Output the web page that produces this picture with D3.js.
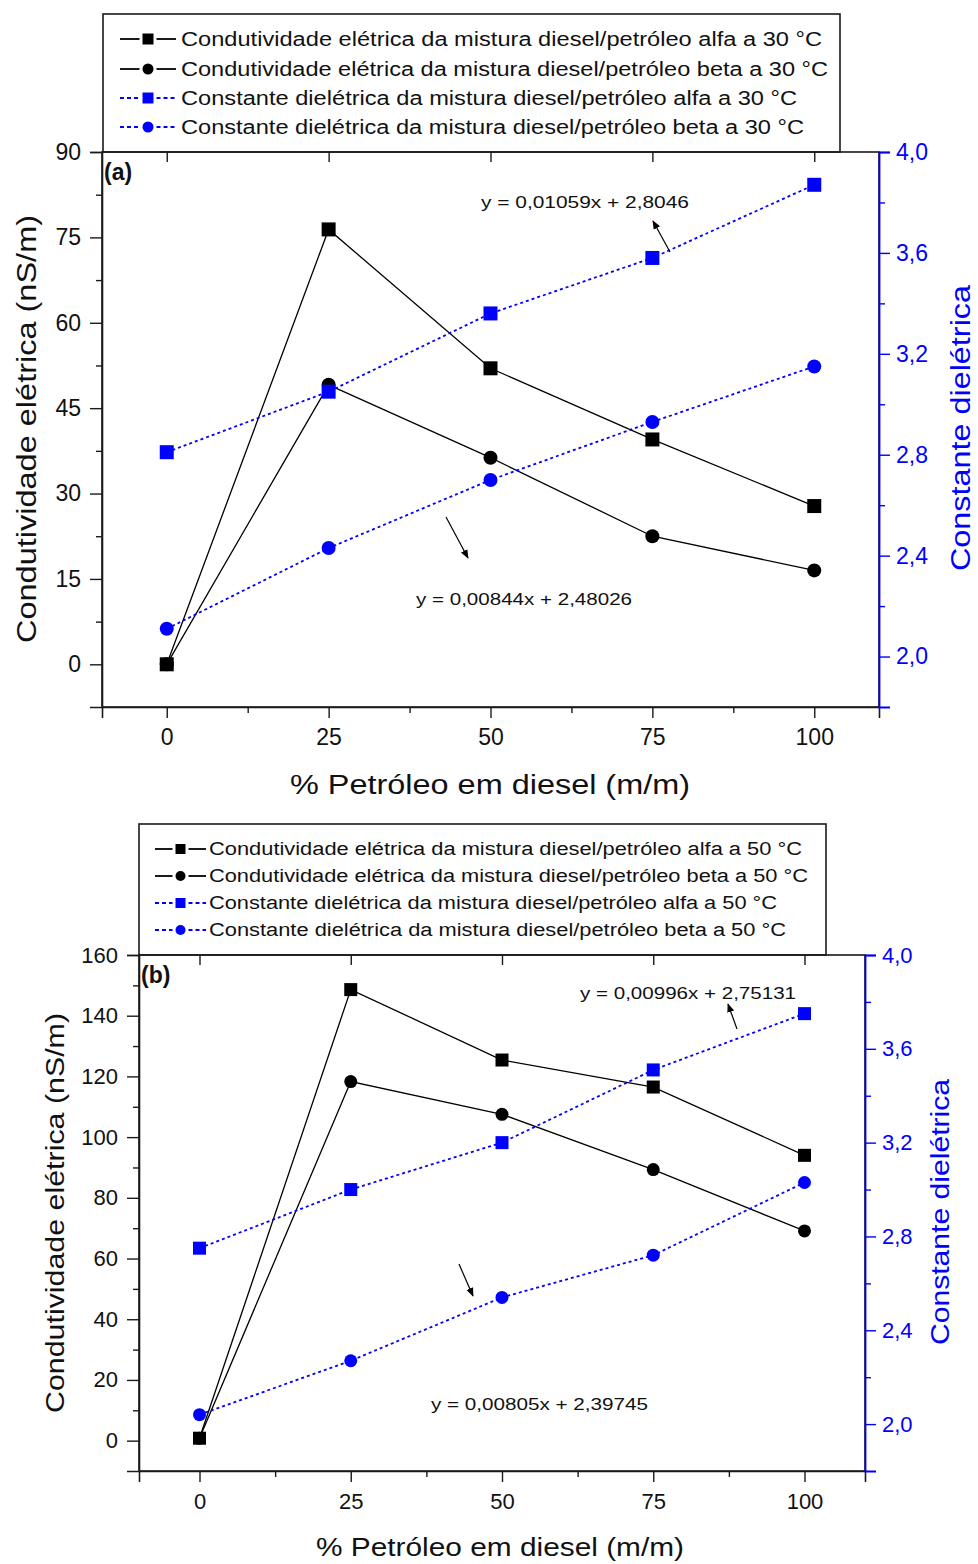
<!DOCTYPE html>
<html>
<head>
<meta charset="utf-8">
<script src="https://cdn.jsdelivr.net/npm/d3@7"></script>
<style>
  html, body { margin: 0; padding: 0; background: #fff; }
  svg { display: block; font-family: "Liberation Sans", Arial, sans-serif; }
</style>
</head>
<body>
<svg id="chart" width="978" height="1564"></svg>
<script>
// Petroleum fraction in diesel (% m/m)
const petroleumPct = [0, 25, 50, 75, 100];

// 30 °C: electrical conductivity (nS/m) and dielectric constant
const condAlfa30 = [0, 76.4, 52.0, 39.5, 27.8];
const condBeta30 = [0, 49.1, 36.3, 22.5, 16.5];
const dielAlfa30 = [2.81, 3.05, 3.36, 3.58, 3.87];
const dielBeta30 = [2.11, 2.43, 2.70, 2.93, 3.15];

// 50 °C: electrical conductivity (nS/m) and dielectric constant
const condAlfa50 = [0.8, 148.6, 125.4, 116.5, 94.0];
const condBeta50 = [0.8, 118.3, 107.5, 89.3, 69.1];
const dielAlfa50 = [2.75, 3.00, 3.20, 3.51, 3.75];
const dielBeta50 = [2.04, 2.27, 2.54, 2.72, 3.03];

// Tick values
const xTicks = [0, 25, 50, 75, 100];
const xMinor = [12.5, 37.5, 62.5, 87.5];
const condTicks30 = [0, 15, 30, 45, 60, 75, 90];
const condMinor30 = [7.5, 22.5, 37.5, 52.5, 67.5, 82.5];
const condTicks50 = [0, 20, 40, 60, 80, 100, 120, 140, 160];
const condMinor50 = [10, 30, 50, 70, 90, 110, 130, 150];
const dielTicks = [2.0, 2.4, 2.8, 3.2, 3.6, 4.0];
const dielMinor = [2.2, 2.6, 3.0, 3.4, 3.8];

// Legend and annotation texts
const legend30 = [
  "Condutividade elétrica da mistura diesel/petróleo alfa a 30 °C",
  "Condutividade elétrica da mistura diesel/petróleo beta a 30 °C",
  "Constante dielétrica da mistura diesel/petróleo alfa a 30 °C",
  "Constante dielétrica da mistura diesel/petróleo beta a 30 °C"
];
const legend50 = [
  "Condutividade elétrica da mistura diesel/petróleo alfa a 50 °C",
  "Condutividade elétrica da mistura diesel/petróleo beta a 50 °C",
  "Constante dielétrica da mistura diesel/petróleo alfa a 50 °C",
  "Constante dielétrica da mistura diesel/petróleo beta a 50 °C"
];
const fits30 = ["y = 0,01059x + 2,8046", "y = 0,00844x + 2,48026"];
const fits50 = ["y = 0,00996x + 2,75131", "y = 0,00805x + 2,39745"];

const BLUE = "#0000ff";
const AXIS = "#1a1a1a";
const svg = d3.select("#chart");

const defs = svg.append("defs");
defs.append("marker")
  .attr("id", "arrowHead")
  .attr("viewBox", "0 0 10 10")
  .attr("refX", 9).attr("refY", 5)
  .attr("markerWidth", 9).attr("markerHeight", 9)
  .attr("markerUnits", "userSpaceOnUse")
  .attr("orient", "auto")
  .append("path").attr("d", "M0,1 L10,5 L0,9 Z").attr("fill", "#000");

const commaFmt = d => d.toFixed(1).replace(".", ",");

function drawPanel(p) {
  const g = svg.append("g");
  const x = d3.scaleLinear().domain([-10, 110]).range([p.left, p.right]);
  const yL = d3.scaleLinear().domain(p.condDomain).range([p.bottom, p.top]);
  const yR = d3.scaleLinear().domain([1.8, 4.0]).range([p.bottom, p.top]);

  // Legend box above the plot
  const lg = g.append("g");
  lg.append("rect")
    .attr("x", p.legend.x0).attr("y", p.legend.y0)
    .attr("width", p.legend.x1 - p.legend.x0)
    .attr("height", p.top - p.legend.y0)
    .attr("fill", "#fff").attr("stroke", AXIS).attr("stroke-width", 1.6);

  const legendItems = [
    { color: "#000", dash: null, shape: "square" },
    { color: "#000", dash: null, shape: "circle" },
    { color: BLUE, dash: "4,3", shape: "square" },
    { color: BLUE, dash: "4,3", shape: "circle" }
  ];
  legendItems.forEach((it, i) => {
    const cy = p.legend.rows[i];
    const mx = (p.legend.sym0 + p.legend.sym1) / 2;
    const ms = p.legend.marker;
    // line segments on both sides of the marker
    [[p.legend.sym0, mx - ms / 2 - 3], [mx + ms / 2 + 3, p.legend.sym1]].forEach(([a, b]) => {
      lg.append("line")
        .attr("x1", a).attr("x2", b)
        .attr("y1", cy).attr("y2", cy)
        .attr("stroke", it.color).attr("stroke-width", 1.8)
        .attr("stroke-dasharray", it.dash);
    });
    if (it.shape === "square") {
      lg.append("rect").attr("x", mx - ms / 2).attr("y", cy - ms / 2)
        .attr("width", ms).attr("height", ms).attr("fill", it.color);
    } else {
      lg.append("circle").attr("cx", mx).attr("cy", cy).attr("r", ms / 2)
        .attr("fill", it.color);
    }
    lg.append("text")
      .attr("x", p.legend.textX).attr("y", cy)
      .attr("dy", "0.35em")
      .attr("font-size", p.legend.fontSize)
      .attr("textLength", p.legend.widths[i])
      .attr("lengthAdjust", "spacingAndGlyphs")
      .attr("fill", "#111")
      .text(p.legendTexts[i]);
  });

  // Plot frame
  g.append("rect")
    .attr("x", p.left).attr("y", p.top)
    .attr("width", p.right - p.left).attr("height", p.bottom - p.top)
    .attr("fill", "none").attr("stroke", AXIS).attr("stroke-width", 1.6);

  // Bottom axis
  const bottomAxis = g.append("g").attr("transform", `translate(0,${p.bottom})`)
    .call(d3.axisBottom(x).tickValues(xTicks).tickSize(11).tickPadding(p.xPad).tickFormat(d3.format("d")));
  g.append("g").attr("transform", `translate(0,${p.bottom})`)
    .call(d3.axisBottom(x).tickValues(xMinor).tickSize(6).tickFormat(""))
    .call(s => s.select(".domain").remove());
  bottomAxis.selectAll("text").attr("font-size", p.tickFont).attr("fill", "#111");

  // Top axis: inward ticks only
  g.append("g").attr("transform", `translate(0,${p.top})`)
    .call(d3.axisBottom(x).tickValues(xTicks).tickSize(10).tickFormat(""))
    .call(s => s.select(".domain").remove());

  // Left axis (conductivity)
  const leftAxis = g.append("g").attr("transform", `translate(${p.left},0)`)
    .call(d3.axisLeft(yL).tickValues(p.condTicks).tickSize(12).tickPadding(9).tickFormat(d3.format("d")));
  g.append("g").attr("transform", `translate(${p.left},0)`)
    .call(d3.axisLeft(yL).tickValues(p.condMinor).tickSize(6).tickFormat(""))
    .call(s => s.select(".domain").remove());
  leftAxis.selectAll("text").attr("font-size", p.tickFont).attr("fill", "#111");

  g.selectAll(".domain").attr("stroke", AXIS).attr("stroke-width", 1.6);
  g.selectAll(".tick line").attr("stroke", AXIS).attr("stroke-width", 1.4);

  // Right axis (dielectric constant), blue
  const rightAxis = g.append("g").attr("transform", `translate(${p.right},0)`)
    .call(d3.axisRight(yR).tickValues(dielTicks).tickSize(11).tickPadding(6).tickFormat(commaFmt));
  const rightMinor = g.append("g").attr("transform", `translate(${p.right},0)`)
    .call(d3.axisRight(yR).tickValues(dielMinor).tickSize(6).tickFormat(""))
    .call(s => s.select(".domain").remove());
  rightAxis.selectAll("text").attr("font-size", p.tickFont).attr("fill", BLUE);
  rightAxis.select(".domain").attr("stroke", BLUE).attr("stroke-width", 1.8);
  rightAxis.selectAll(".tick line").attr("stroke", BLUE).attr("stroke-width", 1.4);
  rightMinor.selectAll(".tick line").attr("stroke", BLUE).attr("stroke-width", 1.4);

  // Axis titles
  g.append("text")
    .attr("transform", `translate(${p.titles.leftX},${p.titles.midY}) rotate(-90)`)
    .attr("text-anchor", "middle").attr("dy", "0.35em")
    .attr("font-size", p.titles.fontSize)
    .attr("textLength", p.titles.leftLen).attr("lengthAdjust", "spacingAndGlyphs")
    .attr("fill", "#111")
    .text("Condutividade elétrica (nS/m)");
  g.append("text")
    .attr("transform", `translate(${p.titles.rightX},${p.titles.rightMidY}) rotate(-90)`)
    .attr("text-anchor", "middle").attr("dy", "0.35em")
    .attr("font-size", p.titles.fontSize)
    .attr("textLength", p.titles.rightLen).attr("lengthAdjust", "spacingAndGlyphs")
    .attr("fill", BLUE)
    .text("Constante dielétrica");
  g.append("text")
    .attr("x", p.titles.bottomX).attr("y", p.titles.bottomY)
    .attr("text-anchor", "middle").attr("dy", "0.35em")
    .attr("font-size", p.titles.fontSize)
    .attr("textLength", p.titles.bottomLen).attr("lengthAdjust", "spacingAndGlyphs")
    .attr("fill", "#111")
    .text("% Petróleo em diesel (m/m)");

  // Panel tag
  g.append("text")
    .attr("x", p.left + 2).attr("y", p.top + 28)
    .attr("font-size", 23).attr("font-weight", "bold").attr("fill", "#111")
    .text(p.tag);

  // Series
  const condLine = d3.line().x((d, i) => x(petroleumPct[i])).y(d => yL(d));
  const dielLine = d3.line().x((d, i) => x(petroleumPct[i])).y(d => yR(d));
  const ms = p.markerSize;

  function drawSeries(values, lineGen, yScale, color, dash, shape) {
    g.append("path").datum(values)
      .attr("d", lineGen)
      .attr("fill", "none").attr("stroke", color)
      .attr("stroke-width", dash ? 1.8 : 1.3)
      .attr("stroke-dasharray", dash);
    if (shape === "square") {
      g.selectAll(null).data(values).enter().append("rect")
        .attr("x", (d, i) => x(petroleumPct[i]) - ms / 2)
        .attr("y", d => yScale(d) - ms / 2)
        .attr("width", ms).attr("height", ms)
        .attr("fill", color);
    } else {
      g.selectAll(null).data(values).enter().append("circle")
        .attr("cx", (d, i) => x(petroleumPct[i]))
        .attr("cy", d => yScale(d))
        .attr("r", ms / 2)
        .attr("fill", color);
    }
  }
  drawSeries(p.condBeta, condLine, yL, "#000", null, "circle");
  drawSeries(p.condAlfa, condLine, yL, "#000", null, "square");
  drawSeries(p.dielBeta, dielLine, yR, BLUE, "3,3", "circle");
  drawSeries(p.dielAlfa, dielLine, yR, BLUE, "3,3", "square");

  // Fit equations with pointer arrows
  p.fits.forEach(f => {
    g.append("text")
      .attr("x", f.tx).attr("y", f.ty).attr("dy", "0.35em")
      .attr("font-size", 16)
      .attr("textLength", f.len).attr("lengthAdjust", "spacingAndGlyphs")
      .attr("fill", "#111")
      .text(f.text);
    g.append("line")
      .attr("x1", f.ax0).attr("y1", f.ay0)
      .attr("x2", f.ax1).attr("y2", f.ay1)
      .attr("stroke", "#000").attr("stroke-width", 1.2)
      .attr("marker-end", "url(#arrowHead)");
  });
}

drawPanel({
  tag: "(a)",
  left: 102, right: 879, top: 152, bottom: 707,
  condDomain: [-7.5, 90],
  condTicks: condTicks30, condMinor: condMinor30,
  condAlfa: condAlfa30, condBeta: condBeta30,
  dielAlfa: dielAlfa30, dielBeta: dielBeta30,
  markerSize: 14,
  tickFont: 23,
  xPad: 11,
  legendTexts: legend30,
  legend: {
    x0: 103, x1: 840, y0: 14,
    rows: [39, 69, 98, 127],
    sym0: 120, sym1: 176, marker: 11,
    textX: 181, fontSize: 20,
    widths: [641, 647, 616, 623]
  },
  titles: {
    fontSize: 27,
    leftX: 27, midY: 429, leftLen: 428,
    rightX: 961, rightMidY: 428, rightLen: 286,
    bottomX: 490, bottomY: 785, bottomLen: 400
  },
  fits: [
    { text: fits30[0], tx: 481, ty: 202, len: 208, ax0: 670, ay0: 252, ax1: 653, ay1: 221 },
    { text: fits30[1], tx: 416, ty: 599, len: 216, ax0: 446, ay0: 517, ax1: 468, ay1: 558 }
  ]
});

drawPanel({
  tag: "(b)",
  left: 139, right: 865, top: 955, bottom: 1471,
  condDomain: [-10, 160],
  condTicks: condTicks50, condMinor: condMinor50,
  condAlfa: condAlfa50, condBeta: condBeta50,
  dielAlfa: dielAlfa50, dielBeta: dielBeta50,
  markerSize: 13,
  tickFont: 22,
  xPad: 11,
  legendTexts: legend50,
  legend: {
    x0: 139, x1: 826, y0: 824,
    rows: [849, 876, 903, 930],
    sym0: 155, sym1: 206, marker: 10,
    textX: 209, fontSize: 18,
    widths: [593, 599, 568, 577]
  },
  titles: {
    fontSize: 25,
    leftX: 55, midY: 1213, leftLen: 400,
    rightX: 940, rightMidY: 1212, rightLen: 266,
    bottomX: 500, bottomY: 1547, bottomLen: 368
  },
  fits: [
    { text: fits50[0], tx: 580, ty: 993, len: 216, ax0: 737, ay0: 1029, ax1: 728, ay1: 1004 },
    { text: fits50[1], tx: 431, ty: 1404, len: 217, ax0: 459, ay0: 1264, ax1: 473, ay1: 1296 }
  ]
});
</script>
</body>
</html>
